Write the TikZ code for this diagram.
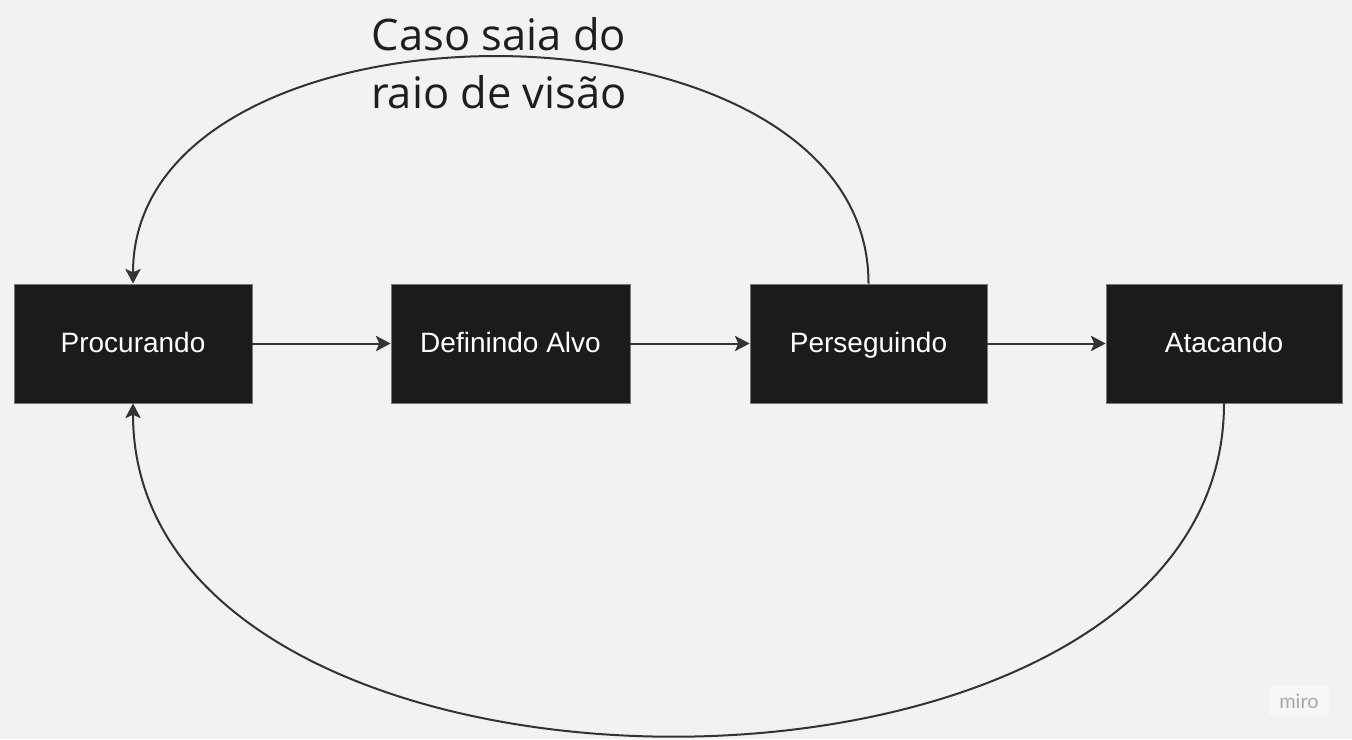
\documentclass[tikz,border=0pt]{standalone}
\usepackage{fontspec}
\setmainfont{Liberation Sans}
\newfontfamily\labelfont{Open Sans}
\newfontfamily\wmfont{Lato}
\usetikzlibrary{arrows.meta}
\definecolor{bgc}{HTML}{F2F2F2}
\definecolor{boxc}{HTML}{1B1B1B}
\definecolor{edgec}{HTML}{7A7A7A}
\definecolor{linec}{HTML}{333333}
\definecolor{txtc}{HTML}{1E1E1E}
\definecolor{wmc}{HTML}{A8A8A8}
\definecolor{wmbg}{HTML}{F6F6F6}
\tikzset{
  statebox/.style={draw=edgec, line width=0.6pt, fill=boxc, text=white,
    minimum height=119*0.75pt, inner sep=0pt,
    text height=17.5pt, text depth=4pt,
    font=\fontsize{21}{25}\selectfont},
  conn/.style={draw=linec, line width=1.5pt,
    -{Stealth[length=11pt, width=11.5pt, inset=2.5pt]}},
}
\begin{document}
\begin{tikzpicture}[x=0.75pt, y=-0.75pt]
\fill[bgc] (0,0) rectangle (1352,739);
\useasboundingbox (0,0) rectangle (1352,739);

\node[statebox, minimum width=238*0.75pt] (proc) at (133,343.5) {Procurando};
\node[statebox, minimum width=239*0.75pt] (def) at (510.5,343.5) {Definindo Alvo};
\node[statebox, minimum width=237*0.75pt] (pers) at (868.5,343.5) {Perseguindo};
\node[statebox, minimum width=236*0.75pt] (atac) at (1224,343.5) {Atacando};

\draw[conn] (proc.east) -- (def.west);
\draw[conn] (def.east) -- (pers.west);
\draw[conn] (pers.east) -- (atac.west);

\draw[conn] (pers.north) .. controls (869,-18) and (133,-18) .. (proc.north);
\draw[conn] (atac.south) .. controls (1224,846) and (133,846) .. (proc.south);

\node[text=txtc, align=center, inner sep=0pt,
  font=\labelfont\fontsize{32.6}{43.5}\selectfont] (lbl) at (499,63)
  {Caso saia do\\raio de visão};

\node[fill=wmbg, text=wmc, inner sep=3pt, minimum width=60*0.75pt, minimum height=30*0.75pt,
  font=\wmfont\fontsize{15}{17}\selectfont] (wm) at (1299,701) {miro};
\end{tikzpicture}
\end{document}
